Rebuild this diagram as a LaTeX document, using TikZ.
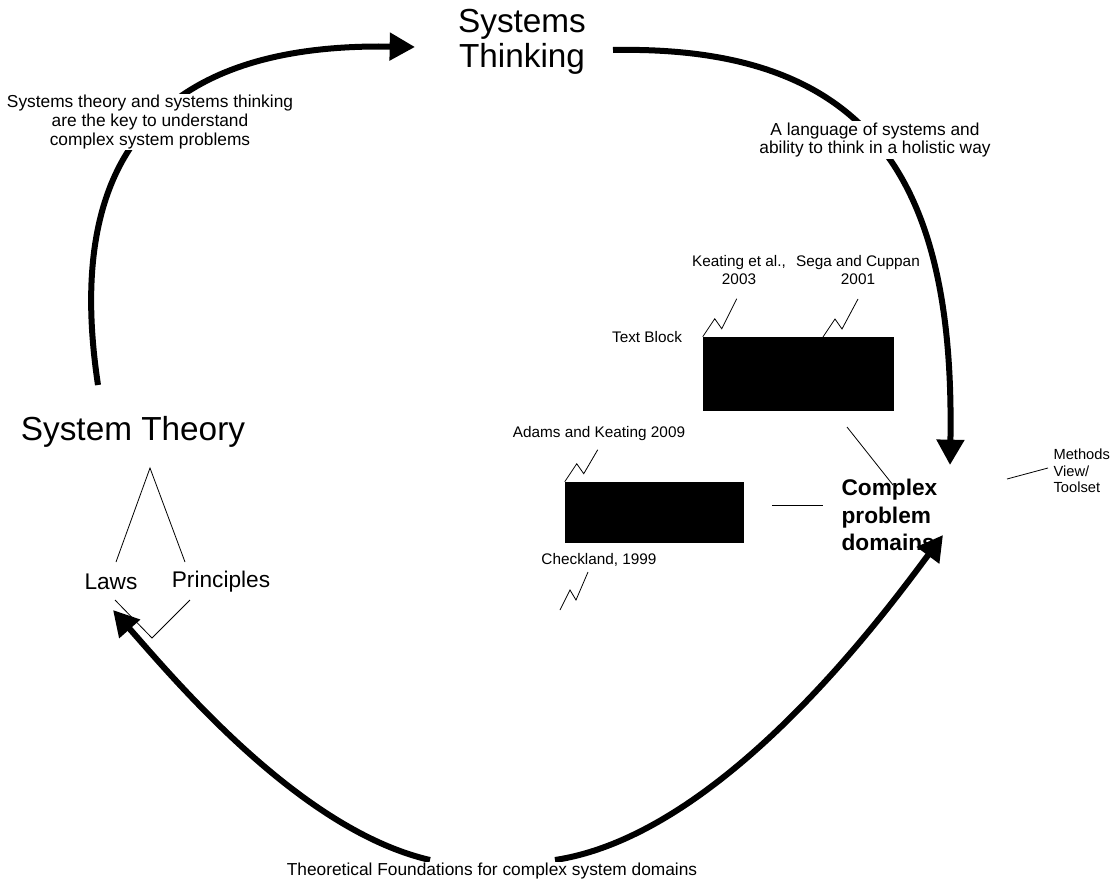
\documentclass[tikz,border=0pt]{standalone}
\usepackage{fontspec}
\setmainfont{Liberation Sans}
\usetikzlibrary{arrows.meta}

\begin{document}
\begin{tikzpicture}[x=0.75pt, y=-0.75pt,
    bigarrow/.style={line width=4.5pt, -{Triangle[length=19pt, width=20pt]}},
    thinline/.style={line width=0.6pt},
    title/.style={font=\fontsize{25}{26}\selectfont, align=center},
    branch/.style={font=\fontsize{17}{20}\selectfont},
    note/.style={font=\fontsize{13}{14}\selectfont, align=center, fill=white},
    cite/.style={font=\fontsize{11.5}{13}\selectfont, align=center},
    blackbox/.style={fill=black, draw=black},
    every node/.style={inner sep=1pt}]

\useasboundingbox (0,0) rectangle (1114,885);

% main titles
\node[title] (thinking) at (522,42) {Systems\\Thinking};
\node[title] (theory) at (133,432) {System Theory};
\node[branch] (laws) at (111,582) {Laws};
\node[branch] (principles) at (221,582) {Principles};
\node[font=\bfseries\fontsize{17}{20.5}\selectfont, align=left, anchor=west] (complex) at (840,515) {Complex\\problem\\domains};

% ends of the big arcs
\coordinate (theorytop) at (98,385);
\coordinate (thinkingin) at (415,47);
\coordinate (thinkingout) at (613,50);
\coordinate (complextop) at (950,465);
\coordinate (complexbot) at (943,535);
\coordinate (lawsbot) at (113,610);
\coordinate (foundleft) at (430,860);
\coordinate (foundright) at (555,860);

\draw[bigarrow] (theorytop) .. controls (70,200) and (120,42) .. (thinkingin);
\draw[bigarrow] (thinkingout) .. controls (870,45) and (955,180) .. (complextop);
\draw[bigarrow] (foundleft) .. controls (300,830) and (175,680) .. (lawsbot);
\draw[bigarrow] (foundright) .. controls (720,835) and (880,620) .. (complexbot);

\node[note] (key) at (150,122) {Systems theory and systems thinking\\are the key to understand\\complex system problems};
\node[note] (language) at (875,140) {A language of systems and\\ability to think in a holistic way};
\node[note] (found) at (492,871) {Theoretical Foundations for complex system domains};

% laws and principles
\coordinate (apex) at (150,468);
\coordinate (vbot) at (152,638);
\draw[thinline] (116,562) -- (apex) -- (185,562);
\draw[thinline] (115,600) -- (vbot) -- (190,600);

% text blocks
\node[blackbox, minimum width=142.5pt, minimum height=54.75pt] (box1) at (798,373.5) {};
\node[blackbox, minimum width=133.5pt, minimum height=45pt] (box2) at (654,512) {};

\node[cite] (textblock) at (647,337) {Text Block};
\node[cite] (keating) at (739,270) {Keating et al.,\\2003};
\node[cite] (sega) at (858,270) {Sega and Cuppan\\2001};
\node[cite] (adams) at (599,434) {Adams and Keating 2009};
\node[cite] (checkland) at (599,560) {Checkland, 1999};
\node[cite, font=\fontsize{11}{12.4}\selectfont, align=left, anchor=west] (methods) at (1052,471) {Methods\\View/\\Toolset};

% break marks
\draw[thinline] (box1.north west) -- ++(12,-18) -- ++(7,10) -- ++(15,-30);
\coordinate (segafoot) at (823,337);
\draw[thinline] (segafoot) -- ++(12,-18) -- ++(7,10) -- ++(16,-30);
\draw[thinline] (box2.north west) -- ++(12,-18) -- ++(7,10) -- ++(14,-24);
\coordinate (checkfoot) at (560,610);
\draw[thinline] (checkfoot) -- ++(10,-20) -- ++(6,10) -- ++(12,-28);

% pointers to complex problem domains
\coordinate (b1tail) at (847,427);
\draw[thinline] (b1tail) -- (893,485);
\coordinate (b2tail) at (772,505);
\draw[thinline] (b2tail) -- (823,505);
\coordinate (mtail) at (1007,479);
\draw[thinline] (mtail) -- (1048,468);

\end{tikzpicture}
\end{document}
